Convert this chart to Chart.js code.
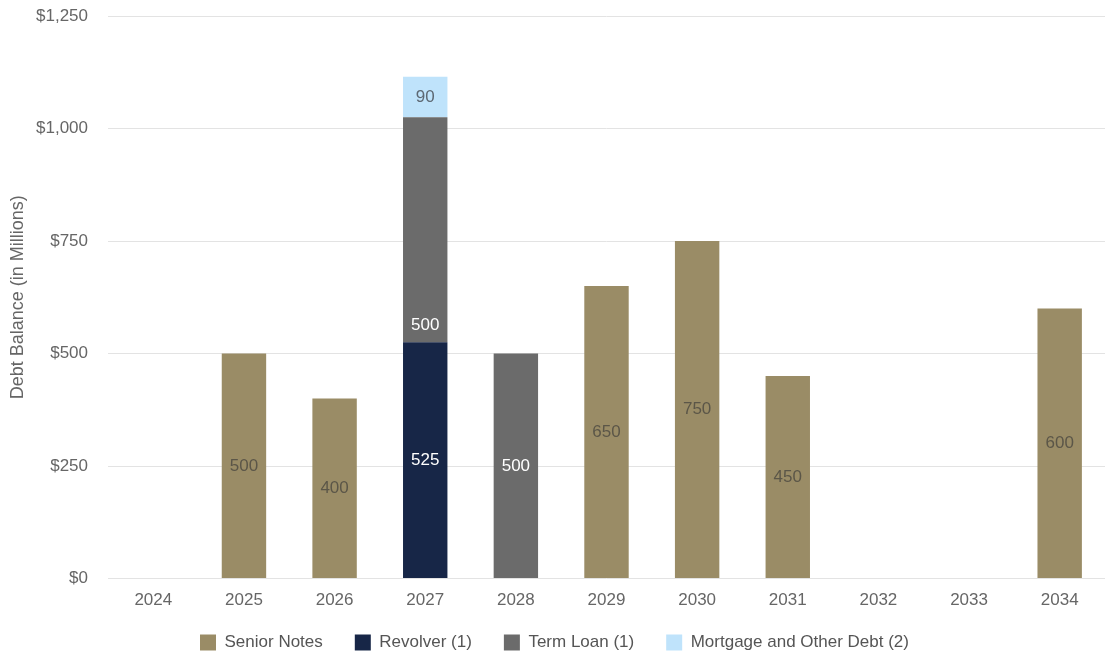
<!DOCTYPE html>
<html>
<head>
<meta charset="utf-8">
<script src="https://cdn.jsdelivr.net/npm/chart.js@4"></script>
<style>
  html, body { margin: 0; padding: 0; background: #fff; }
  #wrap { width: 1105px; height: 659px; }
</style>
</head>
<body>
<div id="wrap"><canvas id="myChart" width="1105" height="659"></canvas></div>
<script>
const years = ['2024', '2025', '2026', '2027', '2028', '2029', '2030', '2031', '2032', '2033', '2034'];
const seniorNotes = [0, 500, 400, 0, 0, 650, 750, 450, 0, 0, 600];
const revolver = [0, 0, 0, 525, 0, 0, 0, 0, 0, 0, 0];
const termLoan = [0, 0, 0, 500, 500, 0, 0, 0, 0, 0, 0];
const mortgageOther = [0, 0, 0, 90, 0, 0, 0, 0, 0, 0, 0];
const yTicks = [0, 250, 500, 750, 1000, 1250];

const fontFamily = '"Liberation Sans", Arial, sans-serif';

// draws the value inside each bar segment
const barLabels = {
    id: 'barLabels',
    afterDatasetsDraw(chart) {
        const ctx = chart.ctx;
        ctx.save();
        ctx.font = '17px ' + fontFamily;
        ctx.textAlign = 'center';
        ctx.textBaseline = 'middle';
        chart.data.datasets.forEach((ds, i) => {
            const meta = chart.getDatasetMeta(i);
            meta.data.forEach((bar, j) => {
                const v = ds.data[j];
                if (!v) return;
                const zeroY = chart.scales.y.getPixelForValue(0);
                const h = bar.base - bar.y;
                let y = (bar.y + bar.base) / 2;
                // tall segment sitting on another one: label near its base
                if (bar.base < zeroY - 1 && h > 100) y = bar.base - 17;
                ctx.fillStyle = ds.labelColor;
                ctx.fillText(v, bar.x, y);
            });
        });
        ctx.restore();
    }
};

// legend: take less room, and sit a little higher
const legendGap = {
    id: 'legendGap',
    beforeInit(chart) {
        const fit = chart.legend.fit;
        chart.legend.fit = function () {
            fit.bind(chart.legend)();
            this.height -= 23;
        };
    },
    afterUpdate(chart) {
        chart.legend.top -= 21;
    }
};

const ctx = document.getElementById('myChart').getContext('2d');
const myChart = new Chart(ctx, {
    type: 'bar',
    data: {
        labels: years,
        datasets: [
            { label: 'Senior Notes', data: seniorNotes, backgroundColor: '#9a8c66', labelColor: '#5b5648' },
            { label: 'Revolver (1)', data: revolver, backgroundColor: '#172647', labelColor: '#ffffff' },
            { label: 'Term Loan (1)', data: termLoan, backgroundColor: '#6b6b6b', labelColor: '#ffffff' },
            { label: 'Mortgage and Other Debt (2)', data: mortgageOther, backgroundColor: '#bfe3fb', labelColor: '#5d6873' }
        ]
    },
    options: {
        responsive: false,
        animation: false,
        barPercentage: 0.49,
        categoryPercentage: 1,
        layout: { padding: { top: 0, right: 0, left: 4, bottom: 0 } },
        plugins: {
            legend: {
                position: 'bottom',
                labels: {
                    boxWidth: 16,
                    boxHeight: 16,
                    padding: 32,
                    color: '#555',
                    font: { size: 17, family: fontFamily }
                }
            },
            tooltip: { enabled: false }
        },
        scales: {
            x: {
                stacked: true,
                grid: { display: false, drawTicks: false },
                border: { display: false },
                ticks: { color: '#666', padding: 12, font: { size: 17, family: fontFamily } }
            },
            y: {
                stacked: true,
                min: 0,
                max: 1250,
                afterBuildTicks: (axis) => { axis.ticks = yTicks.map(v => ({ value: v })); },
                afterFit: (axis) => { axis.width = 104; axis.paddingTop = 16; },
                grid: { color: '#e3e3e3', drawTicks: false },
                border: { display: false },
                ticks: {
                    color: '#666',
                    padding: 20,
                    font: { size: 17, family: fontFamily },
                    callback: (v) => '$' + v.toLocaleString('en-US')
                },
                title: {
                    display: true,
                    text: 'Debt Balance (in Millions)',
                    color: '#666',
                    padding: { top: 3, bottom: 0 },
                    font: { size: 18, family: fontFamily }
                }
            }
        }
    },
    plugins: [barLabels, legendGap]
});
</script>
</body>
</html>
